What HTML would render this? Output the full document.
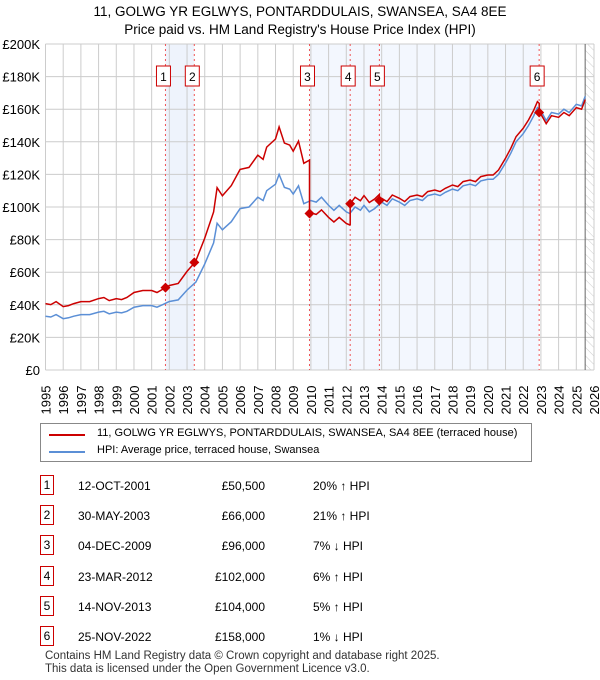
<!DOCTYPE html>
<html><head><meta charset="utf-8"><style>
body{margin:0;background:#fff;font-family:"Liberation Sans","DejaVu Sans",sans-serif;}
#wrap{position:relative;width:600px;height:680px;overflow:hidden}
svg text{font-family:"Liberation Sans","DejaVu Sans",sans-serif}
.row{position:absolute;left:0;width:600px;height:22px;font-size:12px;color:#000}
.row span{position:absolute;top:4px}
.badge{position:absolute;left:40px;top:0;width:12px;height:18px;border:1px solid #c00;text-align:center;line-height:18px;font-size:12px}
</style></head><body><div id="wrap">
<svg id="chart" width="600" height="420" style="position:absolute;left:0;top:0">
<text x="300" y="16" text-anchor="middle" font-size="13.5">11, GOLWG YR EGLWYS, PONTARDDULAIS, SWANSEA, SA4 8EE</text>
<text x="300" y="34" text-anchor="middle" font-size="13.5">Price paid vs. HM Land Registry's House Price Index (HPI)</text>
<defs><pattern id="hatch" width="6" height="6" patternUnits="userSpaceOnUse" patternTransform="rotate(-45)"><line x1="0" y1="0" x2="0" y2="6" stroke="#ccc" stroke-width="1"/></pattern></defs>
<g id="g"></g>
</svg>
<div style="position:absolute;left:40px;top:423px;width:490px;height:37px;border:1px solid #888;font-size:11px;white-space:nowrap">
<div style="position:absolute;left:8px;top:10px;width:36px;height:2px;background:#c00"></div>
<span style="position:absolute;left:56px;top:3px">11, GOLWG YR EGLWYS, PONTARDDULAIS, SWANSEA, SA4 8EE (terraced house)</span>
<div style="position:absolute;left:8px;top:27px;width:36px;height:2px;background:#5b8fd6"></div>
<span style="position:absolute;left:56px;top:20px">HPI: Average price, terraced house, Swansea</span>
</div>
<div id="table"></div>
<div style="position:absolute;left:45px;top:650px;font-size:11.5px;line-height:13px;color:#333">Contains HM Land Registry data © Crown copyright and database right 2025.<br>This data is licensed under the Open Government Licence v3.0.</div>
</div>
<script>
const hpiYears=[1995,1995.3,1995.6,1996,1996.3,1996.6,1997,1997.5,1998,1998.3,1998.6,1999,1999.3,1999.6,2000,2000.5,2001,2001.3,2001.6,2002,2002.5,2003,2003.5,2004,2004.5,2004.7,2005,2005.5,2006,2006.5,2007,2007.3,2007.5,2008,2008.2,2008.5,2008.8,2009,2009.3,2009.6,2010,2010.3,2010.6,2011,2011.3,2011.6,2012,2012.2,2012.5,2012.8,2013,2013.3,2013.6,2014,2014.3,2014.6,2015,2015.3,2015.6,2016,2016.3,2016.6,2017,2017.3,2017.6,2018,2018.3,2018.6,2019,2019.3,2019.6,2020,2020.3,2020.6,2021,2021.3,2021.6,2022,2022.3,2022.6,2022.8,2023,2023.3,2023.6,2024,2024.3,2024.6,2025,2025.3,2025.5];
const hpiValues=[33,32.5,34,31.5,32,33,34,34,35.5,36,34.5,35.5,35,36,38.5,39.5,39.5,38.5,40,42,43,49,54,65,78,90,86,91,99,100,106,104,110,114,120,112,111,108,113,102,104,103,106,101,98,101,97,96,100,98,101,97,99,103,101,105,103,101,104,105,104,107,108,107,109,111,110,113,114,113,116,117,117,120,127,133,140,145,150,156,161,159,153,158,157,160,158,163,162,168,172];
const saleYears=[2001.78,2003.41,2009.92,2012.22,2013.87,2022.9];
const salePrices=[50.5,66,96,102,104,158];
const saleDates=["12-OCT-2001","30-MAY-2003","04-DEC-2009","23-MAR-2012","14-NOV-2013","25-NOV-2022"];
const salePriceLabels=["£50,500","£66,000","£96,000","£102,000","£104,000","£158,000"];
const saleDiffs=["20% ↑ HPI","21% ↑ HPI","7% ↓ HPI","6% ↑ HPI","5% ↑ HPI","1% ↓ HPI"];
const yTicks=[0,20,40,60,80,100,120,140,160,180,200];
const xTicks=[1995,1996,1997,1998,1999,2000,2001,2002,2003,2004,2005,2006,2007,2008,2009,2010,2011,2012,2013,2014,2015,2016,2017,2018,2019,2020,2021,2022,2023,2024,2025,2026];

const X0=45.5,X1=594,Y0=370,Y1=44;
const xs=y=>X0+(y-1995)/(2026-1995)*(X1-X0);
const ys=v=>Y0-v/200*(Y0-Y1);
const NS="http://www.w3.org/2000/svg";
const g=document.getElementById('g');
function mk(t,a){const e=document.createElementNS(NS,t);for(const k in a)e.setAttribute(k,a[k]);g.appendChild(e);return e;}
function hpiAt(y){for(let i=1;i<hpiYears.length;i++){if(y<=hpiYears[i]){const f=(y-hpiYears[i-1])/(hpiYears[i]-hpiYears[i-1]);return hpiValues[i-1]+f*(hpiValues[i]-hpiValues[i-1]);}}return hpiValues[hpiValues.length-1];}
let e=mk('rect',{x:xs(saleYears[0]),y:Y1,width:xs(saleYears[1])-xs(saleYears[0]),height:Y0-Y1,fill:'#eef3fc'});

e=mk('rect',{x:xs(saleYears[2]),y:Y1,width:xs(saleYears[5])-xs(saleYears[2]),height:Y0-Y1,fill:'#f3f7fe'});

e=mk('rect',{x:xs(2025.5),y:Y1,width:X1-xs(2025.5),height:Y0-Y1,fill:'url(#hatch)'});

yTicks.forEach(v=>{const l=mk('line',{x1:X0,x2:X1,y1:ys(v),y2:ys(v),stroke:'#ccc'});

const t=mk('text',{x:40,y:ys(v)+5,'text-anchor':'end','font-size':13});t.textContent=v===0?'£0':'£'+v+'K';
});
xTicks.forEach(y=>{const l=mk('line',{x1:xs(y),x2:xs(y),y1:Y1,y2:Y0,stroke:'#ccc'});

const t=mk('text',{x:0,y:0,'font-size':13,transform:`translate(${xs(y)+5},${Y0+30}) rotate(-90)`,'text-anchor':'middle'});t.textContent=y;
});
e=mk('line',{x1:xs(2025.5),x2:xs(2025.5),y1:Y1,y2:Y0,stroke:'#666'});

saleYears.forEach((y,i)=>{const l=mk('line',{x1:xs(y),x2:xs(y),y1:Y1,y2:Y0,stroke:'#e55','stroke-dasharray':'2,3'});

const r=mk('rect',{x:xs(y)-9,y:66,width:14,height:20,fill:'#fff',stroke:'#c00'});

const t=mk('text',{x:xs(y)-2,y:81,'text-anchor':'middle','font-size':12});t.textContent=i+1;
});
let d='';hpiYears.forEach((y,i)=>{d+=(i?'L':'M')+xs(y).toFixed(1)+','+ys(hpiValues[i]).toFixed(1);});
e=mk('path',{d,fill:'none',stroke:'#5b8fd6','stroke-width':1.5});

const ratios=saleYears.map((y,i)=>salePrices[i]/hpiAt(y));
function ratioAt(y){let r=ratios[0];for(let i=0;i<saleYears.length;i++)if(y>=saleYears[i])r=ratios[i];return r;}
const pts=[];hpiYears.forEach((y,i)=>{saleYears.forEach((s,j)=>{if(i>0&&s>hpiYears[i-1]&&s<=y){pts.push([s,hpiAt(s)*(j?ratios[j-1]:ratios[0])]);pts.push([s,salePrices[j]]);}});pts.push([y,hpiValues[i]*ratioAt(y)]);});
d='';pts.forEach((p,i)=>{d+=(i?'L':'M')+xs(p[0]).toFixed(1)+','+ys(p[1]).toFixed(1);});
e=mk('path',{d,fill:'none',stroke:'#c00','stroke-width':1.5});

saleYears.forEach((y,i)=>{const m=mk('path',{d:`M${xs(y)-5},${ys(salePrices[i])}l5,-5l5,5l-5,5z`,fill:'#c00'});
});
const tb=document.getElementById('table');
saleDates.forEach((dt,i)=>{const r=document.createElement('div');r.className='row';r.style.top=(475+i*30.2)+'px';


r.innerHTML=`<div class="badge">${i+1}</div><span style="left:78px">${dt}</span><span style="right:335px">${salePriceLabels[i]}</span><span style="left:313px">${saleDiffs[i]}</span>`;
tb.appendChild(r);});
</script>
</body></html>
